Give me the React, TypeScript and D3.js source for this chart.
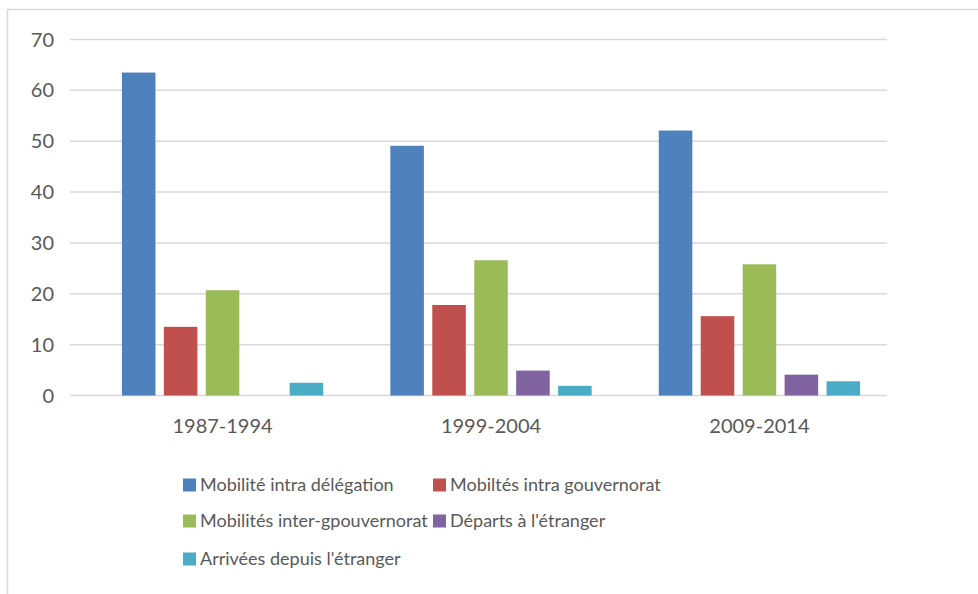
import React, { FC, useMemo } from 'react';
import * as d3 from 'd3';

// Chart data
const periods = ['1987-1994', '1999-2004', '2009-2014'];
const seriesNames = [
  'Mobilité intra délégation',
  'Mobiltés intra gouvernorat',
  'Mobilités inter-gpouvernorat',
  "Départs à l'étranger",
  "Arrivées depuis l'étranger",
];
const intraDelegation = [63.5, 49.1, 52.1];
const intraGouvernorat = [13.5, 17.8, 15.6];
const interGouvernorat = [20.7, 26.6, 25.8];
const departsEtranger = [0, 4.9, 4.1];
const arriveesEtranger = [2.5, 1.9, 2.8];
const yTicks = [0, 10, 20, 30, 40, 50, 60, 70];

const COLORS = ['#4f81bd', '#c0504d', '#9bbb59', '#8064a2', '#4bacc6'];
const FONT = 'Lato, "Open Sans", sans-serif';
const TEXT = '#595959';

const W = 978;
const H = 594;

const App: FC = () => {
  const allSeries = [intraDelegation, intraGouvernorat, interGouvernorat, departsEtranger, arriveesEtranger];

  const y = useMemo(() => d3.scaleLinear().domain([0, 70]).range([395.5, 39.5]), []);
  const x0 = useMemo(() => d3.scaleBand<string>().domain(periods).range([87, 895]).paddingInner(0.25).paddingOuter(0.13), []);
  const x1 = useMemo(
    () => d3.scaleBand<number>().domain(d3.range(seriesNames.length)).range([0, x0.bandwidth()]).paddingInner(0.2),
    [x0]
  );

  // legend laid out in two columns like the original
  const legendRows = [
    [0, 1],
    [2, 3],
    [4],
  ];
  const legendColX = [183, 433];
  const legendRowY = [485, 521, 559];

  return (
    <svg width={W} height={H} style={{ position: 'absolute', left: 0, top: 0, background: '#fff' }}>
      <rect x={7.5} y={9.5} width={W + 10} height={H + 10} fill="#fff" stroke="#d9d9d9" strokeWidth={1.5} />

      {yTicks.map(t => (
        <g key={t}>
          <line x1={70} x2={887} y1={y(t)} y2={y(t)} stroke="#d9d9d9" strokeWidth={1.5} />
          <text x={54} y={y(t)} dy="0.35em" textAnchor="end" fontFamily={FONT} fontSize={20} fill={TEXT}>
            {t}
          </text>
        </g>
      ))}

      {periods.map((p, i) => (
        <g key={p} transform={`translate(${x0(p)},0)`}>
          {allSeries.map((s, j) =>
            s[i] > 0 ? (
              <rect
                key={j}
                x={x1(j)}
                y={y(s[i])}
                width={x1.bandwidth()}
                height={y(0) - y(s[i])}
                fill={COLORS[j]}
              />
            ) : null
          )}
          <text
            x={x0.bandwidth() / 2}
            y={426}
            dy="0.35em"
            textAnchor="middle"
            fontFamily={FONT}
            fontSize={20}
            fill={TEXT}
          >
            {p}
          </text>
        </g>
      ))}

      {legendRows.map((row, r) =>
        row.map((idx, c) => (
          <g key={idx} transform={`translate(${legendColX[c]},${legendRowY[r]})`}>
            <rect x={0} y={-6.5} width={13} height={13} fill={COLORS[idx]} />
            <text x={17} y={0} dy="0.35em" fontFamily={FONT} fontSize={18} fill={TEXT}>
              {seriesNames[idx]}
            </text>
          </g>
        ))
      )}
    </svg>
  );
};

export default App;
